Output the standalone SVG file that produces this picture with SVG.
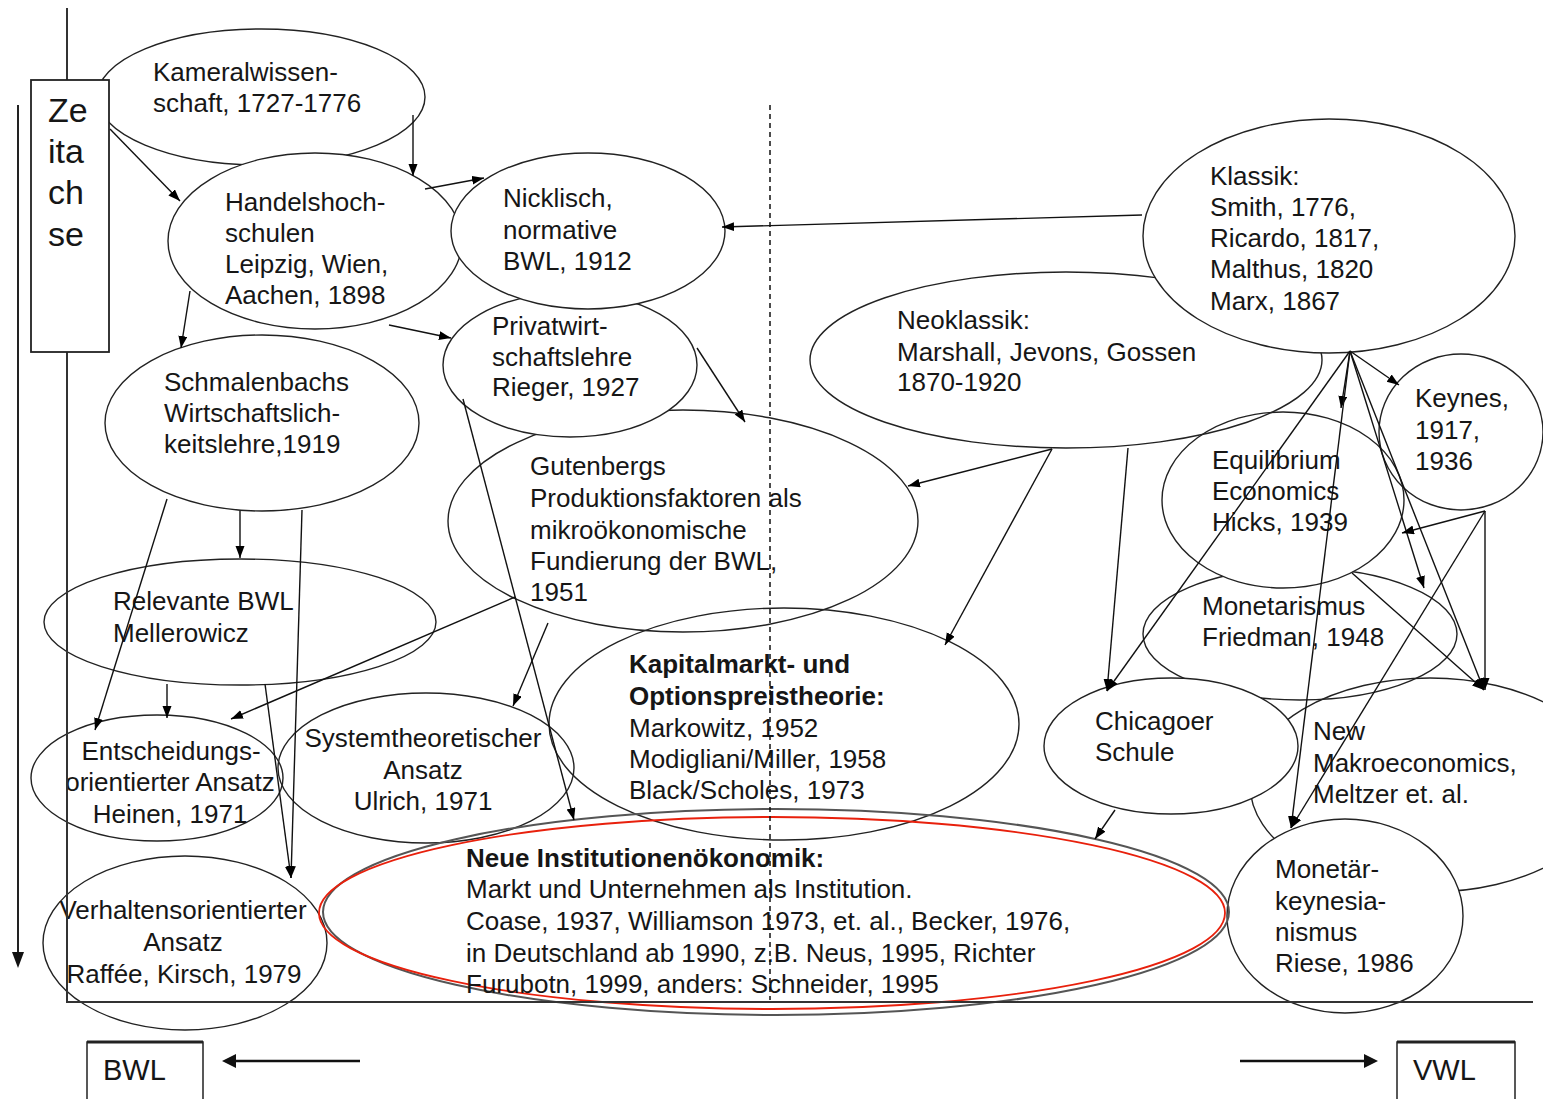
<svg xmlns="http://www.w3.org/2000/svg" width="1543" height="1099" viewBox="0 0 1543 1099">
<style>
text{font-family:"Liberation Sans",Arial,sans-serif;font-size:26px;fill:#161616}
.b{font-weight:bold}
.m{text-anchor:middle}
.e{fill:none;stroke:#222;stroke-width:1.4}
.w{fill:#fff}
.c path{fill:none;stroke:#111;stroke-width:1.4;marker-end:url(#ah)}
.frame{stroke:#333;stroke-width:2;fill:none}
</style>
<defs>
<marker id="ah" markerUnits="userSpaceOnUse" markerWidth="13" markerHeight="10" refX="12" refY="4.5" orient="auto">
<path d="M0,0 L12,4.5 L0,9 z" fill="#000"/>
</marker>
</defs>
<rect width="1543" height="1099" fill="#fff"/>

<g id="kameral"><ellipse class="e" cx="261" cy="97" rx="164" ry="68"/>
<text x="153" y="81">Kameralwissen-</text><text x="153" y="112">schaft, 1727-1776</text></g>

<g id="gutenberg"><ellipse class="e" cx="683" cy="521" rx="235" ry="111"/>
<text x="530" y="475">Gutenbergs</text><text x="530" y="507">Produktionsfaktoren als</text><text x="530" y="539">mikroökonomische</text><text x="530" y="570">Fundierung der BWL,</text><text x="530" y="601">1951</text></g>

<g id="handels"><ellipse class="e w" cx="315" cy="241" rx="147" ry="88"/>
<text x="225" y="211">Handelshoch-</text><text x="225" y="242">schulen</text><text x="225" y="273">Leipzig, Wien,</text><text x="225" y="304">Aachen, 1898</text></g>

<g id="privat"><ellipse class="e w" cx="570" cy="365" rx="127" ry="72"/>
<text x="492" y="335">Privatwirt-</text><text x="492" y="366">schaftslehre</text><text x="492" y="396">Rieger, 1927</text></g>

<g id="nicklisch"><ellipse class="e w" cx="588" cy="231" rx="137" ry="78"/>
<text x="503" y="207">Nicklisch,</text><text x="503" y="239">normative</text><text x="503" y="270">BWL, 1912</text></g>

<g id="schmalenbach"><ellipse class="e" cx="262" cy="423" rx="157" ry="88"/>
<text x="164" y="391">Schmalenbachs</text><text x="164" y="422">Wirtschaftslich-</text><text x="164" y="453">keitslehre,1919</text></g>

<g id="monetarismus"><ellipse class="e" cx="1300" cy="634" rx="157" ry="66"/>
<text x="1202" y="615">Monetarismus</text><text x="1202" y="646">Friedman, 1948</text></g>

<g id="equilibrium"><ellipse class="e w" cx="1283" cy="500" rx="121" ry="88"/>
<text x="1212" y="469">Equilibrium</text><text x="1212" y="500">Economics</text><text x="1212" y="531">Hicks, 1939</text></g>

<g id="neoklassik"><ellipse class="e" cx="1066" cy="360" rx="256" ry="88"/>
<text x="897" y="329">Neoklassik:</text><text x="897" y="361">Marshall, Jevons, Gossen</text><text x="897" y="391">1870-1920</text></g>

<g id="klassik"><ellipse class="e w" cx="1329" cy="236" rx="186" ry="117"/>
<text x="1210" y="185">Klassik:</text><text x="1210" y="216">Smith, 1776,</text><text x="1210" y="247">Ricardo, 1817,</text><text x="1210" y="278">Malthus, 1820</text><text x="1210" y="310">Marx, 1867</text></g>

<g id="keynes"><ellipse class="e" cx="1461" cy="432" rx="82" ry="78"/>
<text x="1415" y="407">Keynes,</text><text x="1415" y="439">1917,</text><text x="1415" y="470">1936</text></g>

<g id="kapitalmarkt"><ellipse class="e" cx="784" cy="724" rx="235" ry="116"/>
<text class="b" x="629" y="673">Kapitalmarkt- und</text><text class="b" x="629" y="705">Optionspreistheorie:</text><text x="629" y="737">Markowitz, 1952</text><text x="629" y="768">Modigliani/Miller, 1958</text><text x="629" y="799">Black/Scholes, 1973</text></g>

<g id="newmakro"><ellipse class="e" cx="1430" cy="785" rx="180" ry="107"/>
<text x="1313" y="740">New</text><text x="1313" y="772">Makroeconomics,</text><text x="1313" y="803">Meltzer et. al.</text></g>

<g id="chicago"><ellipse class="e w" cx="1171" cy="746" rx="127" ry="68"/>
<text x="1095" y="730">Chicagoer</text><text x="1095" y="761">Schule</text></g>

<g id="monetaer"><ellipse class="e w" cx="1345" cy="916" rx="118" ry="97"/>
<text x="1275" y="878">Monetär-</text><text x="1275" y="910">keynesia-</text><text x="1275" y="941">nismus</text><text x="1275" y="972">Riese, 1986</text></g>

<g id="relevante"><ellipse class="e" cx="240" cy="622" rx="196" ry="63"/>
<text x="113" y="610">Relevante BWL</text><text x="113" y="642">Mellerowicz</text></g>

<g id="entscheidung"><ellipse class="e" cx="157" cy="778" rx="126" ry="63"/>
<text class="m" x="171" y="760">Entscheidungs-</text><text class="m" x="170" y="791">orientierter Ansatz</text><text class="m" x="170" y="823">Heinen, 1971</text></g>

<g id="system"><ellipse class="e" cx="426" cy="768" rx="148" ry="75"/>
<text class="m" x="423" y="747">Systemtheoretischer</text><text class="m" x="423" y="779">Ansatz</text><text class="m" x="423" y="810">Ulrich, 1971</text></g>

<g id="verhalten"><ellipse class="e" cx="185" cy="943" rx="142" ry="87"/>
<text class="m" x="183" y="919">Verhaltensorientierter</text><text class="m" x="183" y="951">Ansatz</text><text class="m" x="184" y="983">Raffée, Kirsch, 1979</text></g>

<g id="nioe"><ellipse cx="776" cy="912" rx="453" ry="103" fill="none" stroke="#555" stroke-width="2"/>
<ellipse cx="772" cy="913" rx="453" ry="96" fill="none" stroke="#e8200c" stroke-width="1.8"/>
<text class="b" x="466" y="867">Neue Institutionenökonomik:</text><text x="466" y="898">Markt und Unternehmen als Institution.</text><text x="466" y="930">Coase, 1937, Williamson 1973, et. al., Becker, 1976,</text><text x="466" y="962">in Deutschland ab 1990, z.B. Neus, 1995, Richter</text><text x="466" y="993">Furubotn, 1999, anders: Schneider, 1995</text></g>

<g id="frame">
<path class="frame" d="M67,8 V1002 H1533"/>
<path d="M18,105 V955" stroke="#222" stroke-width="2" fill="none"/>
<path d="M12,952 L18,968 L24,952 z" fill="#111"/>
<path d="M770,105 V1000" stroke="#111" stroke-width="1.5" stroke-dasharray="5,4" fill="none"/>
</g>

<g id="zeitachse">
<rect x="31" y="80" width="78" height="272" fill="#fff" stroke="#222" stroke-width="1.8"/>
<text x="48" y="122" style="font-size:34px">Ze</text>
<text x="48" y="163" style="font-size:34px">ita</text>
<text x="48" y="204" style="font-size:34px">ch</text>
<text x="48" y="246" style="font-size:34px">se</text>
</g>

<g id="bwl">
<path d="M87,1112 V1042 H203 V1112" fill="none" stroke="#222" stroke-width="1.5"/>
<path d="M87,1042 H203" stroke="#222" stroke-width="3"/>
<text x="103" y="1080" style="font-size:29px">BWL</text>
<path d="M360,1061 H234" stroke="#111" stroke-width="2.5"/>
<path d="M236,1054 L222,1061 L236,1068 z" fill="#111"/>
</g>
<g id="vwl">
<path d="M1397,1112 V1042 H1515 V1112" fill="none" stroke="#222" stroke-width="1.5"/>
<path d="M1397,1042 H1515" stroke="#222" stroke-width="3"/>
<text x="1413" y="1080" style="font-size:29px">VWL</text>
<path d="M1240,1061 H1366" stroke="#111" stroke-width="2.5"/>
<path d="M1364,1054 L1378,1061 L1364,1068 z" fill="#111"/>
</g>

<g id="connectors" class="c">
<path d="M110,129 L180,201"/>
<path d="M413,115 L413,176"/>
<path d="M425,189 L484,178"/>
<path d="M389,325 L451,338"/>
<path d="M190,291 L181,348"/>
<path d="M1142,215 L722,227"/>
<path d="M697,348 L745,422"/>
<path d="M463,399 L574,820"/>
<path d="M1052,449 L908,486"/>
<path d="M1052,449 L945,645"/>
<path d="M1128,448 L1107,691"/>
<path d="M1350,351 L1399,385"/>
<path d="M1350,351 L1341,408"/>
<path d="M1350,351 L1107,691"/>
<path d="M1350,351 L1291,828"/>
<path d="M1350,351 L1424,588"/>
<path d="M1350,351 L1484,690"/>
<path d="M1485,511 L1402,533"/>
<path d="M1485,511 L1485,690"/>
<path d="M1485,511 L1291,828"/>
<path d="M1352,573 L1484,690"/>
<path d="M1115,810 L1095,839"/>
<path d="M167,499 L95,730"/>
<path d="M240,511 L240,558"/>
<path d="M302,510 L291,878"/>
<path d="M265,684 L291,878"/>
<path d="M167,684 L167,718"/>
<path d="M515,597 L231,719"/>
<path d="M548,623 L513,706"/>
</g>
</svg>
